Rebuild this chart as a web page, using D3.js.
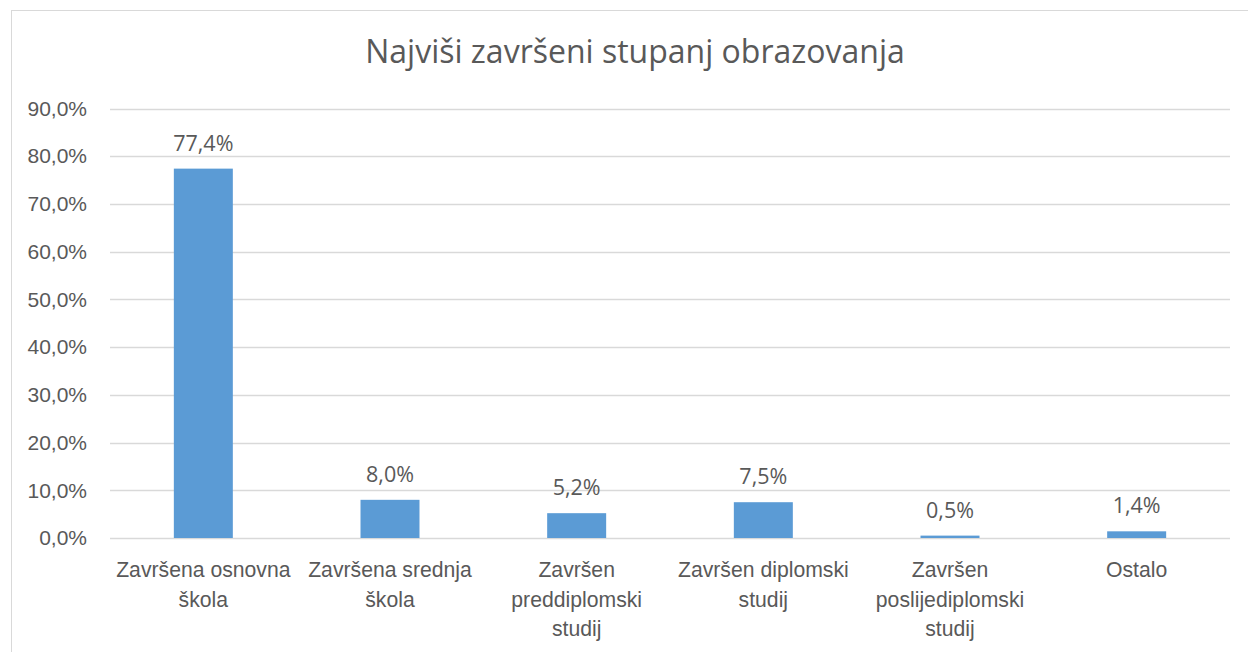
<!DOCTYPE html>
<html>
<head>
<meta charset="utf-8">
<script src="https://cdn.jsdelivr.net/npm/d3@7"></script>
<style>
  html, body { margin: 0; padding: 0; background: #fff; }
  svg { display: block; font-family: "Open Sans", "Liberation Sans", sans-serif; }
</style>
</head>
<body>
<svg id="chart" width="1248" height="652"></svg>
<script>
const title = "Najviši završeni stupanj obrazovanja";
const categories = [
  "Završena osnovna škola",
  "Završena srednja škola",
  "Završen preddiplomski studij",
  "Završen diplomski studij",
  "Završen poslijediplomski studij",
  "Ostalo"
];
const values = [0.774, 0.080, 0.052, 0.075, 0.005, 0.014];
const yTicks = [0, 0.1, 0.2, 0.3, 0.4, 0.5, 0.6, 0.7, 0.8, 0.9];

const svg = d3.select("#chart");
const W = 1248, H = 652;
const textColor = "#595959";
const gridColor = "#d9d9d9";
const barColor = "#5b9bd5";

const plot = { left: 110, right: 1230, top: 108.5, bottom: 538 };

// chart border
svg.append("rect")
  .attr("x", 11.5).attr("y", 10.5)
  .attr("width", W + 20).attr("height", H + 20)
  .attr("fill", "#fff").attr("stroke", gridColor).attr("stroke-width", 1);

const x = d3.scaleBand()
  .domain(categories)
  .range([plot.left, plot.right])
  .paddingInner(0.684)
  .paddingOuter(0.342);

const y = d3.scaleLinear()
  .domain([0, 0.9])
  .range([plot.bottom, plot.top]);

const fmt = v => d3.format(".1f")(v * 100).replace(".", ",") + "%";

// gridlines
svg.append("g")
  .selectAll("line")
  .data(yTicks)
  .join("line")
  .attr("x1", plot.left).attr("x2", plot.right)
  .attr("y1", d => Math.round(y(d)) + 0.5)
  .attr("y2", d => Math.round(y(d)) + 0.5)
  .attr("stroke", gridColor).attr("stroke-width", 1.5);

// y axis labels
const yAxis = d3.axisLeft(y).tickValues(yTicks).tickFormat(fmt).tickSize(0).tickPadding(23);
const gy = svg.append("g").attr("transform", `translate(${plot.left},0)`).call(yAxis);
gy.select(".domain").remove();
gy.selectAll("text")
  .attr("fill", textColor)
  .style("font-size", "21px");

// bars
svg.append("g")
  .selectAll("rect")
  .data(values)
  .join("rect")
  .attr("x", (d, i) => x(categories[i]))
  .attr("width", x.bandwidth())
  .attr("y", d => y(d))
  .attr("height", d => y(0) - y(d))
  .attr("fill", barColor);

// data labels
svg.append("g")
  .selectAll("text")
  .data(values)
  .join("text")
  .attr("x", (d, i) => x(categories[i]) + x.bandwidth() / 2)
  .attr("y", d => y(d) - 18)
  .attr("text-anchor", "middle")
  .attr("fill", textColor)
  .style("font-size", "21.5px")
  .text(d => fmt(d));

// x axis category labels (wrapped)
const xAxis = d3.axisBottom(x).tickSize(0).tickPadding(0);
const gx = svg.append("g").attr("transform", `translate(0,${plot.bottom})`).call(xAxis);
gx.select(".domain").remove();
gx.selectAll("text")
  .attr("fill", textColor)
  .style("font-size", "21.2px")
  .each(function (d) {
    const t = d3.select(this);
    const words = d.split(" ");
    t.text(null);
    const maxW = x.step() - 2;
    let lines = [], line = [];
    const probe = t.append("tspan");
    words.forEach(w => {
      const trial = line.concat([w]).join(" ");
      probe.text(trial);
      if (probe.node().getComputedTextLength() > maxW && line.length) {
        lines.push(line.join(" "));
        line = [w];
      } else {
        line.push(w);
      }
    });
    lines.push(line.join(" "));
    probe.remove();
    t.attr("y", 0).attr("dy", null);
    lines.forEach((l, i) => {
      t.append("tspan")
        .attr("x", 0)
        .attr("y", 39 + i * 29.5)
        .text(l);
    });
  });

// title
svg.append("text")
  .attr("x", 635).attr("y", 63)
  .attr("text-anchor", "middle")
  .attr("fill", textColor)
  .style("font-size", "32px")
  .text(title);
</script>
</body>
</html>
